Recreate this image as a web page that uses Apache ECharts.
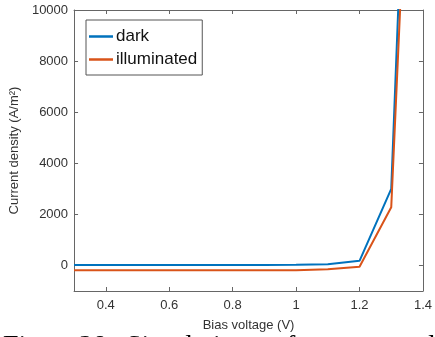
<!DOCTYPE html>
<html>
<head>
<meta charset="utf-8">
<script src="https://cdn.jsdelivr.net/npm/echarts@6/dist/echarts.min.js"></script>
<style>
  html, body { margin: 0; padding: 0; background: #fff; }
  #chart { width: 435px; height: 337px; }
</style>
</head>
<body>
<div id="chart"></div>
<script>
// bias voltage (V)
const voltage = [0.3, 0.4, 0.5, 0.6, 0.7, 0.8, 0.9, 1.0, 1.1, 1.2, 1.3, 1.4]
// current density (A/m^2), goes off the top of the axes above 1.3 V
const dark = [20, 20, 20, 20, 20, 20, 20, 25, 50, 180, 3000, 35000]
const illuminated = [-190, -190, -190, -190, -190, -190, -190, -185, -150, -50, 2280, 30000]

const xTicks = [0.4, 0.6, 0.8, 1.0, 1.2, 1.4]
const yTicks = [0, 2000, 4000, 6000, 8000, 10000]

// caption under the figure, cut off by the bottom edge
const captionWords = ['Figure', '28:', 'Simulation', 'of', 'current', 'density']
const captionX = [3, 79, 126, 272, 306, 421]

const chart = echarts.init(document.getElementById('chart'))

function pairs(ys) {
  return voltage.map((v, i) => [v, ys[i]])
}

const axisColor = '#666'
const labelColor = '#333'
const font = 'Liberation Sans, Arial, sans-serif'

function boxAxis(extra) {
  return Object.assign({
    type: 'value',
    axisLine: { show: true, onZero: false, lineStyle: { color: axisColor } },
    splitLine: { show: false }
  }, extra)
}

const option = {
  animation: false,
  grid: { left: 74, right: 8, top: 10, bottom: 46 },
  legend: {
    orient: 'vertical',
    left: 86,
    top: 20,
    padding: [8, 5, 7, 3],
    itemGap: 6,
    itemWidth: 24,
    itemHeight: 2.5,
    icon: 'rect',
    borderColor: '#555',
    borderWidth: 1,
    backgroundColor: '#fff',
    textStyle: { fontSize: 17, color: '#111', fontFamily: font, padding: [0, 0, 0, -2] },
    data: ['dark', 'illuminated']
  },
  xAxis: [
    boxAxis({
      min: 0.3,
      max: 1.4,
      name: 'Bias voltage (V)',
      nameLocation: 'middle',
      nameGap: 28,
      nameTextStyle: { fontSize: 13, color: labelColor, fontFamily: font },
      axisTick: { inside: true, length: 4, customValues: xTicks, lineStyle: { color: axisColor } },
      axisLabel: {
        customValues: xTicks,
        margin: 8,
        fontSize: 13,
        color: labelColor,
        fontFamily: font,
        formatter: (v) => String(Math.round(v * 10) / 10)
      }
    }),
    boxAxis({
      position: 'top',
      min: 0.3,
      max: 1.4,
      axisTick: { inside: true, length: 4, customValues: xTicks, lineStyle: { color: axisColor } },
      axisLabel: { show: false }
    })
  ],
  yAxis: [
    boxAxis({
      min: -1000,
      max: 10000,
      name: 'Current density (A/m²)',
      nameLocation: 'middle',
      nameGap: 41,
      nameTextStyle: { fontSize: 13, color: labelColor, fontFamily: font },
      axisTick: { show: true, inside: true, length: 4, customValues: yTicks, lineStyle: { color: axisColor } },
      axisLabel: {
        customValues: yTicks,
        margin: 6,
        fontSize: 13,
        color: labelColor,
        fontFamily: font,
        formatter: (v) => String(v)
      }
    }),
    boxAxis({
      position: 'right',
      min: -1000,
      max: 10000,
      axisTick: { show: true, inside: true, length: 4, customValues: yTicks, lineStyle: { color: axisColor } },
      axisLabel: { show: false }
    })
  ],
  graphic: captionWords.map((w, i) => ({
    type: 'text',
    left: captionX[i],
    top: 333,
    style: {
      text: w,
      font: '28px "Liberation Serif", "DejaVu Serif", serif',
      fill: '#000'
    }
  })),
  series: [
    {
      name: 'dark',
      type: 'line',
      data: pairs(dark),
      showSymbol: false,
      clip: true,
      lineStyle: { width: 2, color: '#0072BD' },
      itemStyle: { color: '#0072BD' }
    },
    {
      name: 'illuminated',
      type: 'line',
      data: pairs(illuminated),
      showSymbol: false,
      clip: true,
      lineStyle: { width: 2, color: '#D95319' },
      itemStyle: { color: '#D95319' }
    }
  ]
}

chart.setOption(option)
</script>
</body>
</html>
